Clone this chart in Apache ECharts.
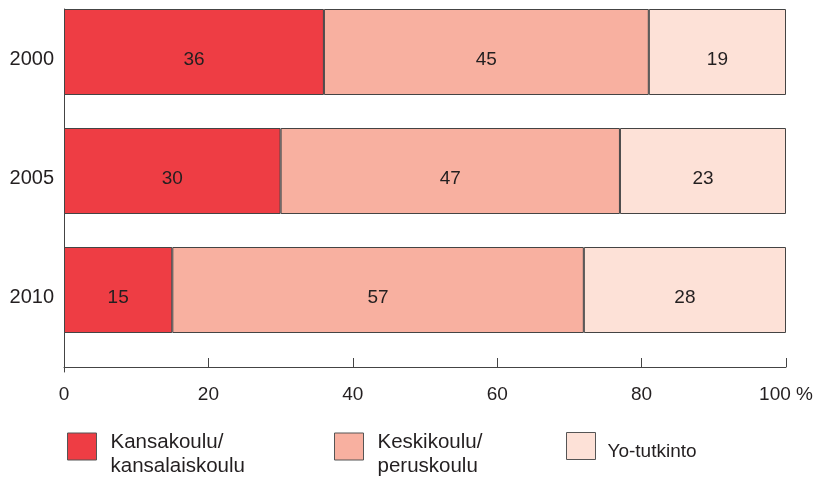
<!DOCTYPE html>
<html><head><meta charset="utf-8">
<script src="https://cdn.jsdelivr.net/npm/echarts@6/dist/echarts.min.js"></script>
<style>html,body{margin:0;padding:0;background:#fff}#c{width:817px;height:477px}</style>
</head><body><div id="c"></div>
<script>
const years = ['2000', '2005', '2010'];
const kansakoulu = [36, 30, 15];
const keskikoulu = [45, 47, 57];
const yotutkinto = [19, 23, 28];
const seriesNames = ['Kansakoulu/\nkansalaiskoulu', 'Keskikoulu/\nperuskoulu', 'Yo-tutkinto'];
const xTicks = [0, 20, 40, 60, 80, 100];

const colors = ['#EE3D44', '#F8B0A0', '#FDE1D7'];
const txt = '#231f20';
const font = 'Liberation Sans, Arial, sans-serif';
const chart = echarts.init(document.getElementById('c'));

const mkSeries = (name, data, i) => ({
  name, type: 'bar', stack: 'a', data, xAxisIndex: 0, yAxisIndex: 0,
  barWidth: 86,
  itemStyle: { color: colors[i], borderColor: '#444', borderWidth: 1 },
  label: { show: true, position: 'inside', offset: [0, 8], color: txt, fontSize: 19, fontFamily: font },
  emphasis: { disabled: true }
});

const mkLegend = (name, left, top, fs, padLine, padLeft) => ({
  data: [name], left, top, orient: 'horizontal',
  icon: 'rect', itemWidth: 29, itemHeight: 27, itemGap: 0,
  itemStyle: { borderColor: '#555', borderWidth: 1 },
  formatter: n => '{p| }\n' + n.split('\n').map(s => '{t|' + s + '}').join('\n'),
  textStyle: { color: txt, fontSize: fs, fontFamily: font,
    rich: {
      p: { fontSize: 1, lineHeight: padLine, padding: [0, 0, 0, padLeft] },
      t: { fontSize: fs, fontFamily: font, color: txt, lineHeight: 24, padding: [0, 0, 0, padLeft] }
    } },
  selectedMode: false, padding: 0
});

chart.setOption({
  animation: false,
  grid: [
    { left: 64, right: 31, top: 52, height: 238 },
    { left: 64, right: 31, top: 9, bottom: 105 }
  ],
  xAxis: [
    { gridIndex: 0, type: 'value', min: 0, max: 100, show: false },
    { gridIndex: 1, type: 'value', min: 0, max: 100, interval: 20,
      axisLine: { show: true, onZero: true, lineStyle: { color: '#444', width: 1 } },
      axisTick: { show: true, inside: true, length: 9, lineStyle: { color: '#444' } },
      splitLine: { show: false },
      axisLabel: { color: txt, fontSize: 19, fontFamily: font, margin: 13,
        formatter: v => xTicks.includes(v) ? (v === 100 ? '100 %' : String(v)) : '' } }
  ],
  yAxis: [
    { gridIndex: 0, type: 'category', data: years, inverse: true, boundaryGap: false,
      axisLine: { show: false }, axisTick: { show: false }, splitLine: { show: false },
      axisLabel: { color: txt, fontSize: 20, fontFamily: font, margin: 10, verticalAlign: 'top', lineHeight: 15 } },
    { gridIndex: 1, type: 'value', min: -5, max: 358,
      axisLine: { show: true, onZero: false, lineStyle: { color: '#444', width: 1 } },
      axisTick: { show: false }, axisLabel: { show: false }, splitLine: { show: false } }
  ],
  legend: [
    mkLegend(seriesNames[0], 67, 422, 20.5, 16, 9),
    mkLegend(seriesNames[1], 334, 422, 20.5, 16, 9),
    mkLegend(seriesNames[2], 566, 432, 19, 11, 7)
  ],
  series: [
    mkSeries(seriesNames[0], kansakoulu, 0),
    mkSeries(seriesNames[1], keskikoulu, 1),
    mkSeries(seriesNames[2], yotutkinto, 2)
  ]
});
</script></body></html>
